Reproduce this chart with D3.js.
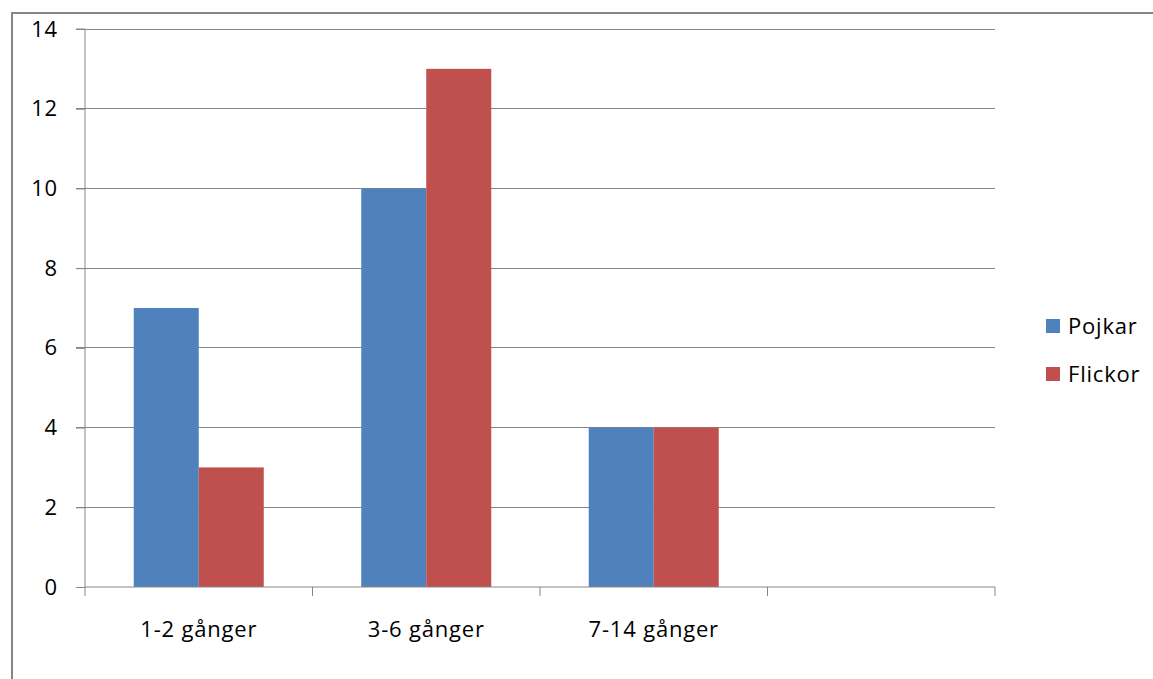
<!DOCTYPE html>
<html><head><meta charset="utf-8">
<script src="https://cdn.jsdelivr.net/npm/d3@7"></script>
<style>body{margin:0;background:#fff;}svg{display:block;}text{font-family:"Open Sans",sans-serif;fill:#000;}</style>
</head><body>
<script>
const categories = ["1-2 gånger", "3-6 gånger", "7-14 gånger", ""];
const seriesNames = ["Pojkar", "Flickor"];
const pojkar = [7, 10, 4, null];
const flickor = [3, 13, 4, null];
const yTicks = [0, 2, 4, 6, 8, 10, 12, 14];
const colors = ["#4F81BD", "#C0504D"];

const FONT = "'Open Sans',sans-serif";
const FS = 22;
const LS = 0.8;
const W = 1153, H = 679;
const svg = d3.select("body").append("svg").attr("width", W).attr("height", H);
// outer frame
svg.append("rect").attr("x", 12).attr("y", 13).attr("width", W).attr("height", H).attr("fill", "none").attr("stroke", "#868686").attr("stroke-width", 2);

const m = {l: 85, r: 995, t: 29, b: 587};
const x = d3.scaleBand().domain(categories.map((c,i)=>i)).range([m.l, m.r]).paddingInner(0).paddingOuter(0);
const y = d3.scaleLinear().domain([0, 14]).range([m.b, m.t]);

// gridlines
svg.append("g").selectAll("line").data(yTicks.filter(v=>v>0)).join("line")
  .attr("x1", m.l - 9).attr("x2", m.r).attr("y1", d=>y(d)).attr("y2", d=>y(d))
  .attr("stroke", "#868686").attr("stroke-width", 1).attr("shape-rendering","crispEdges");

// bars
const series = [pojkar, flickor];
const bw = 65;
series.forEach((s, si) => {
  svg.append("g").selectAll("rect").data(s.map((v,i)=>({v,i})).filter(d=>d.v!=null)).join("rect")
    .attr("x", d => x(d.i) + x.bandwidth()/2 - bw + si*bw)
    .attr("width", bw)
    .attr("y", d => y(d.v))
    .attr("height", d => y(0) - y(d.v))
    .attr("fill", colors[si]);
});

// y axis
const yAxis = svg.append("g").attr("transform", `translate(${m.l},0)`)
  .call(d3.axisLeft(y).tickValues(yTicks).tickSize(9).tickPadding(18).tickFormat(d3.format("d")));
yAxis.select(".domain").attr("stroke", "#868686").attr("d", `M-9,${m.t}H0V${m.b}`);
yAxis.selectAll(".tick line").attr("stroke", "#868686");
yAxis.selectAll("text").attr("font-size", FS).attr("font-family", FONT).attr("fill","#000").attr("letter-spacing", LS);

// x axis
const xAxis = svg.append("g").attr("transform", `translate(0,${m.b})`)
  .call(d3.axisBottom(x).tickSize(0).tickPadding(34).tickFormat(i=>categories[i]));
xAxis.select(".domain").attr("stroke", "#868686").attr("d", `M${m.l},0H${m.r}`);
xAxis.selectAll("text").attr("font-size", FS).attr("font-family", FONT).attr("fill","#000").attr("letter-spacing", LS);
// category boundary ticks
const bounds = categories.map((c,i)=>x(i)).concat([m.r]);
svg.append("g").selectAll("line").data(bounds).join("line")
  .attr("x1", d=>d).attr("x2", d=>d).attr("y1", m.b).attr("y2", m.b + 9)
  .attr("stroke", "#868686");

// legend
const lg = svg.append("g");
seriesNames.forEach((n, i) => {
  const ly = 326 + i*48;
  lg.append("rect").attr("x", 1046).attr("y", ly - 7).attr("width", 14).attr("height", 14).attr("fill", colors[i]);
  lg.append("text").attr("x", 1068).attr("y", ly).attr("dy", "0.35em").attr("font-size", FS).attr("font-family", FONT).attr("letter-spacing", LS).text(n);
});
</script>
</body></html>
